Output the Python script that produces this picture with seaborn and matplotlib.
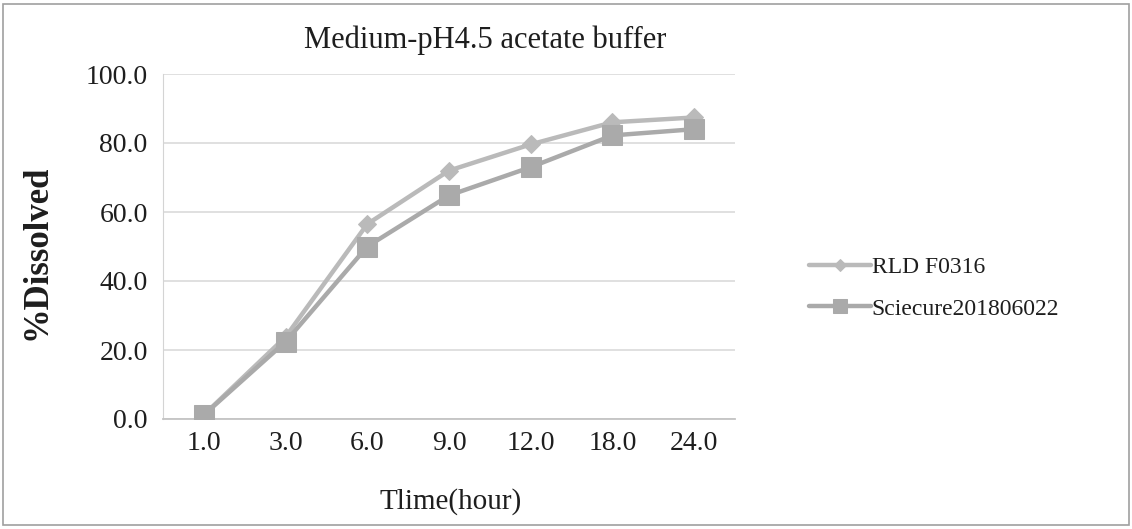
import matplotlib
matplotlib.use("Agg")
import matplotlib.pyplot as plt
import seaborn as sns
import pandas as pd
from matplotlib.patches import Rectangle

# Dissolution profile data
time_labels = ["1.0", "3.0", "6.0", "9.0", "12.0", "18.0", "24.0"]
rld_f0316 = [1.2, 23.8, 56.5, 72.0, 79.6, 86.0, 87.4]
sciecure = [1.2, 22.4, 50.0, 64.8, 73.0, 82.2, 84.0]
series_names = ["RLD F0316", "Sciecure201806022"]

df = pd.DataFrame({
    "Time": time_labels * 2,
    "Dissolved": rld_f0316 + sciecure,
    "Batch": [series_names[0]] * len(time_labels) + [series_names[1]] * len(time_labels),
})

sns.set_style("white")
plt.rcParams["font.family"] = ["Liberation Serif", "DejaVu Serif"]

W, H = 1132, 529
fig = plt.figure(figsize=(W / 100, H / 100), dpi=100)
ax = fig.add_axes([163 / W, 1 - 419 / H, (735 - 163) / W, (419 - 74) / H])

txt = "#1e1e1e"
palette = {series_names[0]: "#bababa", series_names[1]: "#aaaaaa"}
markers = {series_names[0]: "D", series_names[1]: "s"}
msize = {series_names[0]: 9, series_names[1]: 14}

for name in series_names:
    sub = df[df["Batch"] == name]
    sns.lineplot(data=sub, x="Time", y="Dissolved", ax=ax, sort=False,
                 color=palette[name], lw=3.2, marker=markers[name],
                 markersize=msize[name], markeredgecolor=palette[name],
                 label=name, zorder=3)

ax.set_xlim(-0.5, len(time_labels) - 0.5)
ax.set_ylim(0, 100)
yt = [0, 20, 40, 60, 80, 100]
ax.set_yticks(yt)
ax.set_yticklabels([f"{v:.1f}" for v in yt])
ax.yaxis.grid(True, color="#dadada", lw=1.2)
ax.set_axisbelow(True)

for side in ["top", "right"]:
    ax.spines[side].set_visible(False)
ax.spines["left"].set_color("#d4d4d4")
ax.spines["bottom"].set_color("#c4c4c4")
ax.spines["bottom"].set_linewidth(1.3)

# category-boundary tick marks on the x axis
ax.set_xticks(range(len(time_labels)))
ax.set_xticklabels(time_labels)
ax.set_xticks([i - 0.5 for i in range(len(time_labels) + 1)], minor=True)
ax.tick_params(axis="x", which="major", length=0, labelsize=20, pad=9, labelcolor=txt)
ax.tick_params(axis="x", which="minor", length=6, color="#c4c4c4", direction="out")
ax.tick_params(axis="y", length=6, color="#d4d4d4", direction="out", labelsize=20,
               pad=5, labelcolor=txt)

ax.set_xlabel("")
ax.set_ylabel("")
fig.text(451 / W, 1 - 502 / H, "Tlime(hour)", fontsize=21, color=txt,
         ha="center", va="center")
fig.text(37 / W, 1 - 252 / H, "%Dissolved", fontsize=25, fontweight="bold", color=txt,
         ha="center", va="center", rotation=90)
fig.text(485 / W, 1 - 40 / H, "Medium-pH4.5 acetate buffer", fontsize=22, color=txt,
         ha="center", va="center")

ax.get_legend().remove()
handles, labels = ax.get_legend_handles_labels()
leg = fig.legend(handles, labels, loc="center left",
                 bbox_to_anchor=(788 / W, 1 - 288 / H), frameon=False,
                 fontsize=17, handlelength=2.6, handletextpad=0.05, labelspacing=0.85,
                 markerscale=0.7)
for t in leg.get_texts():
    t.set_color(txt)

# outer chart frame
fig.patches.append(Rectangle((3 / W, 4 / H), 1 - 6 / W, 1 - 8 / H, transform=fig.transFigure,
                             fill=False, edgecolor="#a0a0a0", lw=1.2))

fig.savefig("out.png", dpi=100)
